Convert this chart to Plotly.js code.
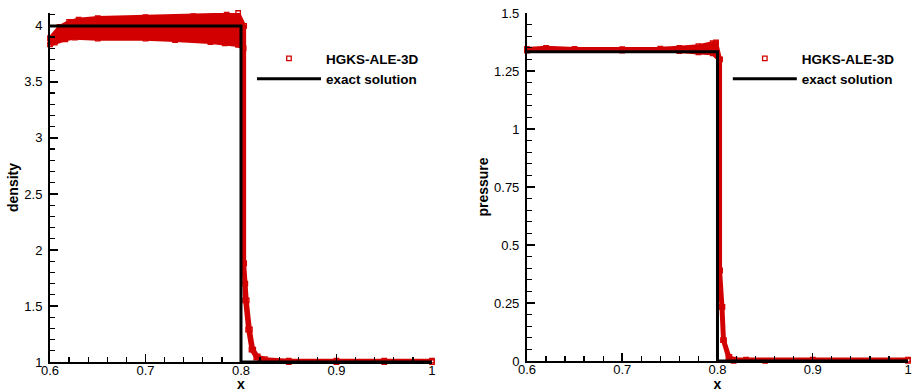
<!DOCTYPE html>
<html><head><meta charset="utf-8">
<script src="https://cdn.plot.ly/plotly-3.0.1.min.js"></script>
<style>html,body{margin:0;padding:0;background:#fff}#chart{width:915px;height:392px}</style>
</head><body><div id="chart"></div>
<script>
// ---- density: numerical solution (upper / right envelope and lower / left envelope of the scattered cells)
const rhoUpX = [0.600, 0.610, 0.620, 0.630, 0.650, 0.700, 0.750, 0.785, 0.797, 0.8033, 0.8033, 0.8045, 0.8060, 0.8093, 0.8128, 0.8175, 0.825, 0.850, 0.900, 0.950, 1.000];
const rhoUpY = [3.89, 3.99, 4.035, 4.055, 4.07, 4.078, 4.087, 4.10, 4.115, 4.00, 1.88, 1.70, 1.55, 1.29, 1.11, 1.05, 1.025, 1.012, 1.012, 1.012, 1.012];
const rhoLoX = [0.600, 0.605, 0.616, 0.626, 0.650, 0.700, 0.731, 0.768, 0.783, 0.797, 0.8027, 0.8027, 0.8043, 0.8075, 0.811, 0.816, 0.822, 0.850, 0.900, 0.950, 1.000];
const rhoLoY = [3.835, 3.85, 3.88, 3.895, 3.886, 3.886, 3.874, 3.856, 3.843, 3.83, 3.80, 1.88, 1.55, 1.29, 1.11, 1.04, 1.01, 1.0, 1.0, 1.0, 1.0];

// ---- pressure: numerical solution envelopes
const pUpX = [0.600, 0.620, 0.650, 0.700, 0.740, 0.760, 0.780, 0.795, 0.7985, 0.8027, 0.8027, 0.8052, 0.8068, 0.8125, 0.818, 0.830, 0.900, 1.000];
const pUpY = [1.345, 1.350, 1.345, 1.344, 1.346, 1.350, 1.357, 1.370, 1.373, 1.30, 0.39, 0.233, 0.09, 0.017, 0.006, 0.006, 0.006, 0.006];
const pLoX = [0.600, 0.700, 0.760, 0.780, 0.795, 0.8015, 0.8015, 0.8042, 0.8058, 0.8115, 0.817, 0.850, 1.000];
const pLoY = [1.338, 1.338, 1.336, 1.330, 1.326, 1.30, 0.39, 0.233, 0.09, 0.012, 0.0, 0.0, 0.0];

// ---- exact solution
const exactX = [0.6, 0.8, 0.8, 1.0];
const rhoExact = [4, 4, 1, 1];
const pExact = [1.3333, 1.3333, 0, 0];

const numName = 'HGKS-ALE-3D';
const exactName = 'exact solution';
const xTickVals = [0.6, 0.7, 0.8, 0.9, 1];

const RED = '#d20000';
const FONT = 'Liberation Sans, Arial, sans-serif';

function band(ux, uy, lx, ly, xa, ya) {
  return {
    x: ux.concat(lx.slice().reverse()),
    y: uy.concat(ly.slice().reverse()),
    xaxis: xa, yaxis: ya, mode: 'lines', fill: 'toself',
    fillcolor: RED, line: {color: RED, width: 4}, showlegend: false, hoverinfo: 'skip'
  };
}
function pts(ux, uy, lx, ly, xa, ya, lg) {
  return {
    x: ux.concat(lx), y: uy.concat(ly), xaxis: xa, yaxis: ya,
    mode: 'markers', name: numName, legend: lg, cliponaxis: false,
    marker: {symbol: 'square-open', size: 4.5, color: RED, line: {color: RED, width: 1.3}}
  };
}
function exact(yv, xa, ya, lg) {
  return {x: exactX, y: yv, xaxis: xa, yaxis: ya, mode: 'lines', name: exactName, legend: lg,
    line: {color: '#000', width: 3}};
}

const data = [
  band(rhoUpX, rhoUpY, rhoLoX, rhoLoY, 'x', 'y'),
  pts(rhoUpX, rhoUpY, rhoLoX, rhoLoY, 'x', 'y', 'legend'),
  exact(rhoExact, 'x', 'y', 'legend'),
  band(pUpX, pUpY, pLoX, pLoY, 'x2', 'y2'),
  pts(pUpX, pUpY, pLoX, pLoY, 'x2', 'y2', 'legend2'),
  exact(pExact, 'x2', 'y2', 'legend2')
];

const tickFont = {family: FONT, size: 13, color: '#000'};
const titleFont = {family: FONT, size: 14, color: '#000', weight: 'bold'};
function xax(dom, anchor) {
  return {domain: dom, anchor: anchor, range: [0.6, 1.0], tickvals: xTickVals, ticktext: xTickVals.map(String),
    ticks: 'inside', ticklen: 8, tickwidth: 1.5, tickcolor: '#000', ticklabelstandoff: -5,
    minor: {dtick: 0.02, tick0: 0.6, ticks: 'inside', ticklen: 5, tickwidth: 1.3, tickcolor: '#000'},
    showline: true, linewidth: 2, linecolor: '#000', showgrid: false, zeroline: false,
    tickfont: tickFont, title: {text: 'x', font: titleFont, standoff: 8}};
}
function yax(dom, anchor, range, dtick, mdtick, title) {
  return {domain: dom, anchor: anchor, range: range, dtick: dtick, tick0: range[0],
    ticks: 'inside', ticklen: 8, tickwidth: 1.5, tickcolor: '#000', ticklabelstandoff: 3,
    minor: {dtick: mdtick, tick0: range[0], ticks: 'inside', ticklen: 5, tickwidth: 1.3, tickcolor: '#000'},
    showline: true, linewidth: 2, linecolor: '#000', showgrid: false, zeroline: false,
    tickfont: tickFont, title: {text: title, font: titleFont, standoff: 2}};
}
const legFont = {family: FONT, size: 13.5, color: '#000', weight: 'bold'};
const layout = {
  width: 915, height: 392, margin: {l: 50, r: 7, t: 13, b: 30},
  paper_bgcolor: '#fff', plot_bgcolor: '#fff',
  xaxis: xax([0, 0.4452], 'y'),
  yaxis: yax([0, 1], 'x', [1, 4.115], 0.5, 0.1, 'density'),
  xaxis2: xax([0.5559, 1], 'y2'),
  yaxis2: yax([0.003, 1], 'x2', [0, 1.5], 0.25, 0.05, 'pressure'),
  legend: {x: 0.2354, y: 0.914, xanchor: 'left', yanchor: 'top', bgcolor: 'rgba(0,0,0,0)', font: legFont, itemwidth: 64},
  legend2: {x: 0.790, y: 0.914, xanchor: 'left', yanchor: 'top', bgcolor: 'rgba(0,0,0,0)', font: legFont, itemwidth: 64},
  showlegend: true
};
Plotly.newPlot('chart', data, layout, {staticPlot: true});
</script>
</body></html>
